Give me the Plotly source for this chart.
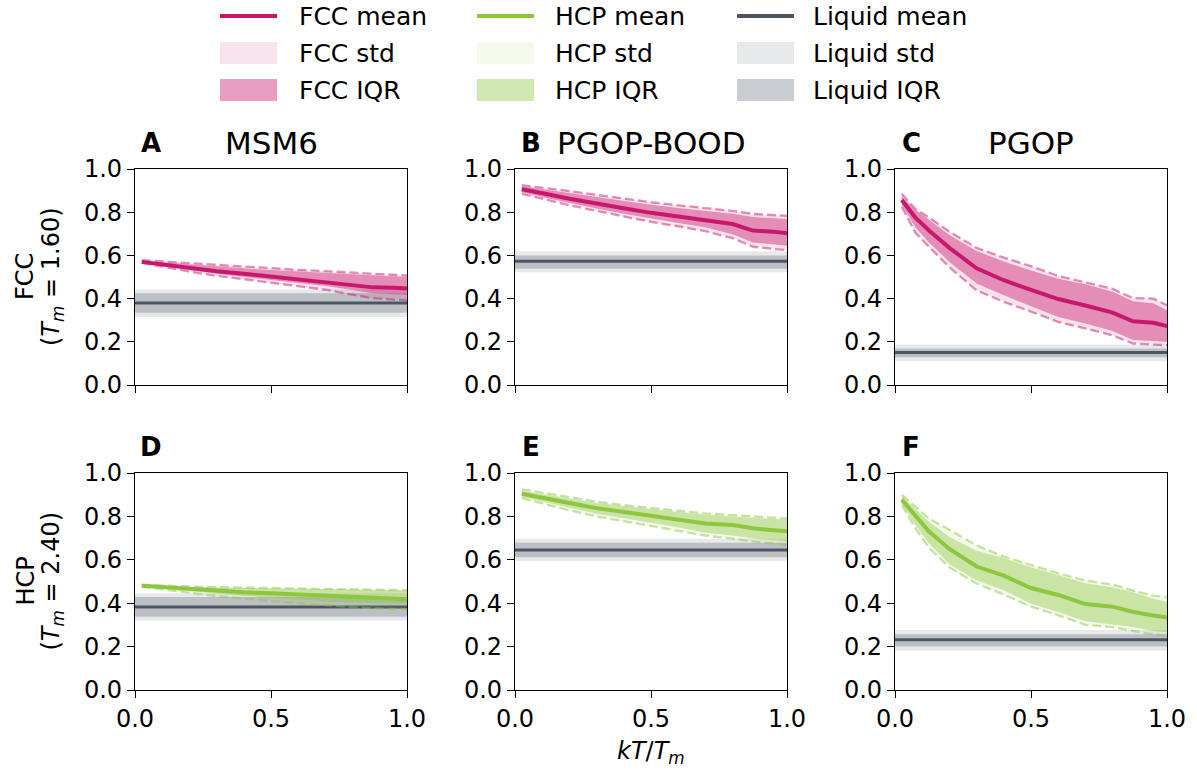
import plotly.graph_objects as go

W, H = 1197, 773

# ---------------- data ----------------
X = [0.025, 0.075, 0.125, 0.2, 0.3, 0.4, 0.5, 0.6, 0.7, 0.8, 0.875, 0.95, 1.0]
LIQ_X = [0.0, 1.0]

# Panel A: FCC / MSM6
A_mean = [0.570, 0.562, 0.552, 0.540, 0.527, 0.515, 0.502, 0.492, 0.478, 0.465, 0.452, 0.450, 0.447]
A_iqr_hi = [0.575, 0.570, 0.565, 0.557, 0.548, 0.540, 0.532, 0.525, 0.518, 0.512, 0.506, 0.503, 0.500]
A_iqr_lo = [0.567, 0.558, 0.547, 0.532, 0.515, 0.500, 0.486, 0.472, 0.458, 0.440, 0.425, 0.420, 0.418]
A_std_hi = [0.578, 0.574, 0.570, 0.563, 0.555, 0.548, 0.540, 0.533, 0.527, 0.520, 0.513, 0.509, 0.507]
A_std_lo = [0.565, 0.555, 0.542, 0.525, 0.505, 0.490, 0.474, 0.458, 0.441, 0.418, 0.402, 0.395, 0.392]
A_liq = [0.380, 0.335, 0.425, 0.315, 0.442]  # mean, iqr lo, iqr hi, std lo, std hi

# Panel B: FCC / PGOP-BOOD
B_mean = [0.906, 0.895, 0.882, 0.862, 0.838, 0.818, 0.797, 0.780, 0.765, 0.745, 0.715, 0.710, 0.702]
B_iqr_hi = [0.920, 0.912, 0.903, 0.889, 0.870, 0.852, 0.835, 0.820, 0.808, 0.793, 0.778, 0.772, 0.768]
B_iqr_lo = [0.892, 0.878, 0.864, 0.842, 0.817, 0.793, 0.770, 0.750, 0.730, 0.698, 0.660, 0.650, 0.645]
B_std_hi = [0.925, 0.918, 0.910, 0.898, 0.880, 0.862, 0.846, 0.832, 0.820, 0.806, 0.792, 0.786, 0.783]
B_std_lo = [0.885, 0.870, 0.855, 0.832, 0.806, 0.780, 0.755, 0.735, 0.712, 0.680, 0.640, 0.630, 0.625]
B_liq = [0.573, 0.538, 0.599, 0.522, 0.619]

# Panel C: FCC / PGOP
C_mean = [0.856, 0.775, 0.715, 0.635, 0.540, 0.485, 0.440, 0.398, 0.368, 0.335, 0.295, 0.288, 0.273]
C_iqr_hi = [0.875, 0.810, 0.765, 0.695, 0.620, 0.572, 0.530, 0.492, 0.466, 0.432, 0.388, 0.378, 0.346]
C_iqr_lo = [0.835, 0.730, 0.660, 0.570, 0.470, 0.415, 0.365, 0.315, 0.285, 0.250, 0.208, 0.204, 0.200]
C_std_hi = [0.885, 0.815, 0.775, 0.710, 0.635, 0.590, 0.550, 0.505, 0.475, 0.445, 0.402, 0.400, 0.369]
C_std_lo = [0.825, 0.705, 0.640, 0.545, 0.438, 0.385, 0.340, 0.292, 0.262, 0.230, 0.192, 0.188, 0.184]
C_liq = [0.150, 0.128, 0.169, 0.110, 0.187]

# Panel D: HCP / MSM6
D_mean = [0.480, 0.476, 0.471, 0.465, 0.457, 0.450, 0.446, 0.440, 0.433, 0.428, 0.423, 0.420, 0.418]
D_iqr_hi = [0.483, 0.480, 0.478, 0.475, 0.472, 0.470, 0.468, 0.466, 0.464, 0.462, 0.461, 0.460, 0.460]
D_iqr_lo = [0.477, 0.472, 0.465, 0.455, 0.443, 0.432, 0.424, 0.416, 0.408, 0.403, 0.400, 0.398, 0.397]
D_std_hi = [0.485, 0.482, 0.480, 0.477, 0.474, 0.472, 0.470, 0.468, 0.466, 0.464, 0.462, 0.461, 0.460]
D_std_lo = [0.476, 0.469, 0.460, 0.448, 0.433, 0.420, 0.410, 0.400, 0.390, 0.382, 0.376, 0.374, 0.372]
D_liq = [0.383, 0.338, 0.428, 0.320, 0.446]

# Panel E: HCP / PGOP-BOOD
E_mean = [0.904, 0.893, 0.880, 0.862, 0.838, 0.820, 0.803, 0.787, 0.767, 0.760, 0.745, 0.736, 0.731]
E_iqr_hi = [0.918, 0.908, 0.897, 0.882, 0.862, 0.848, 0.833, 0.820, 0.808, 0.800, 0.792, 0.788, 0.786]
E_iqr_lo = [0.890, 0.876, 0.862, 0.840, 0.812, 0.790, 0.770, 0.750, 0.725, 0.712, 0.698, 0.690, 0.684]
E_std_hi = [0.925, 0.915, 0.903, 0.888, 0.868, 0.852, 0.838, 0.826, 0.814, 0.806, 0.798, 0.793, 0.790]
E_std_lo = [0.884, 0.868, 0.852, 0.828, 0.800, 0.778, 0.757, 0.737, 0.712, 0.698, 0.684, 0.675, 0.669]
E_liq = [0.645, 0.612, 0.678, 0.595, 0.697]

# Panel F: HCP / PGOP
F_mean = [0.877, 0.805, 0.730, 0.650, 0.569, 0.527, 0.470, 0.438, 0.396, 0.384, 0.360, 0.343, 0.334]
F_iqr_hi = [0.895, 0.835, 0.775, 0.705, 0.642, 0.608, 0.566, 0.530, 0.492, 0.474, 0.450, 0.420, 0.407]
F_iqr_lo = [0.860, 0.760, 0.675, 0.580, 0.505, 0.460, 0.397, 0.360, 0.317, 0.302, 0.290, 0.272, 0.266]
F_std_hi = [0.900, 0.845, 0.790, 0.738, 0.666, 0.615, 0.576, 0.538, 0.505, 0.486, 0.458, 0.435, 0.428]
F_std_lo = [0.852, 0.745, 0.655, 0.565, 0.490, 0.440, 0.384, 0.345, 0.300, 0.290, 0.272, 0.256, 0.250]
F_liq = [0.231, 0.200, 0.257, 0.181, 0.277]

COLUMN_TITLES = ["MSM6", "PGOP-BOOD", "PGOP"]
PANEL_LETTERS = ["A", "B", "C", "D", "E", "F"]
ROW_NAMES = ["FCC", "HCP"]
ROW_TM = ["(<i>T</i><sub><i>m</i></sub> = 1.60)", "(<i>T</i><sub><i>m</i></sub> = 2.40)"]
X_TICKS = [0.0, 0.5, 1.0]
Y_TICKS = [0.0, 0.2, 0.4, 0.6, 0.8, 1.0]
LEGEND_LABELS = [["FCC mean", "FCC std", "FCC IQR"],
                 ["HCP mean", "HCP std", "HCP IQR"],
                 ["Liquid mean", "Liquid std", "Liquid IQR"]]

# ---------------- styles ----------------
FCC = (200, 24, 110)
HCP = (141, 198, 63)
LIQ = (75, 85, 99)
FONT = "DejaVu Sans"


def rgba(c, a):
    return f"rgba({c[0]},{c[1]},{c[2]},{a})"


STD_A = {FCC: 0.12, HCP: 0.10, LIQ: 0.13}
IQR_A = {FCC: 0.42, HCP: 0.40, LIQ: 0.28}

panels = [
    (A_mean, A_iqr_lo, A_iqr_hi, A_std_lo, A_std_hi, A_liq, FCC),
    (B_mean, B_iqr_lo, B_iqr_hi, B_std_lo, B_std_hi, B_liq, FCC),
    (C_mean, C_iqr_lo, C_iqr_hi, C_std_lo, C_std_hi, C_liq, FCC),
    (D_mean, D_iqr_lo, D_iqr_hi, D_std_lo, D_std_hi, D_liq, HCP),
    (E_mean, E_iqr_lo, E_iqr_hi, E_std_lo, E_std_hi, E_liq, HCP),
    (F_mean, F_iqr_lo, F_iqr_hi, F_std_lo, F_std_hi, F_liq, HCP),
]

# pixel layout
COL_X = [(135, 407), (515, 787), (895, 1167)]
ROW_Y = [(169, 385), (473, 690)]


def px(x):
    return x / W


def py(y):
    return 1 - y / H


fig = go.Figure()
layout = dict(template="none", width=W, height=H, autosize=False,
              margin=dict(l=0, r=0, t=0, b=0, pad=0),
              paper_bgcolor="white", plot_bgcolor="white", showlegend=False,
              font=dict(family=FONT, size=24, color="black"))

annotations = []
shapes = []

for i, (mean, ilo, ihi, slo, shi, liq, col) in enumerate(panels):
    r, c = divmod(i, 3)
    n = i + 1
    xa = "x" if n == 1 else f"x{n}"
    ya = "y" if n == 1 else f"y{n}"
    xkey = "xaxis" if n == 1 else f"xaxis{n}"
    ykey = "yaxis" if n == 1 else f"yaxis{n}"
    x0, x1 = COL_X[c]
    y0, y1 = ROW_Y[r]
    common = dict(showline=True, mirror=True, linecolor="black", linewidth=1.3,
                  ticks="outside", ticklen=7, tickwidth=1.3, tickcolor="black",
                  showgrid=False, zeroline=False, range=[0, 1], automargin=False,
                  tickfont=dict(family=FONT, size=24, color="black"))
    layout[xkey] = dict(domain=[px(x0), px(x1)], anchor=ya, tickvals=X_TICKS,
                        ticktext=[f"{v:.1f}" for v in X_TICKS],
                        showticklabels=(r == 1), **common)
    layout[ykey] = dict(domain=[py(y1), py(y0)], anchor=xa, tickvals=Y_TICKS,
                        ticktext=[f"{v:.1f}" for v in Y_TICKS], **common)

    lm, lilo, lihi, lslo, lshi = liq
    # liquid std & IQR bands
    fig.add_trace(go.Scatter(x=LIQ_X + LIQ_X[::-1], y=[lshi, lshi, lslo, lslo], fill="toself",
                             fillcolor=rgba(LIQ, STD_A[LIQ]), line=dict(width=0),
                             mode="lines", hoverinfo="skip", xaxis=xa, yaxis=ya))
    fig.add_trace(go.Scatter(x=LIQ_X + LIQ_X[::-1], y=[lihi, lihi, lilo, lilo], fill="toself",
                             fillcolor=rgba(LIQ, IQR_A[LIQ]), line=dict(width=0),
                             mode="lines", hoverinfo="skip", xaxis=xa, yaxis=ya))
    fig.add_trace(go.Scatter(x=LIQ_X, y=[lm, lm], mode="lines",
                             line=dict(color=rgba(LIQ, 1), width=3), xaxis=xa, yaxis=ya))
    # crystal std band
    fig.add_trace(go.Scatter(x=X + X[::-1], y=shi + slo[::-1], fill="toself",
                             fillcolor=rgba(col, STD_A[col]), line=dict(width=0),
                             mode="lines", hoverinfo="skip", xaxis=xa, yaxis=ya))
    # crystal IQR band
    fig.add_trace(go.Scatter(x=X + X[::-1], y=ihi + ilo[::-1], fill="toself",
                             fillcolor=rgba(col, IQR_A[col]), line=dict(width=0),
                             mode="lines", hoverinfo="skip", xaxis=xa, yaxis=ya))
    # dashed std boundaries
    for arr in (shi, slo):
        fig.add_trace(go.Scatter(x=X, y=arr, mode="lines",
                                 line=dict(color=rgba(col, 0.48), width=2.3, dash="9px,4px"),
                                 xaxis=xa, yaxis=ya))
    # mean
    fig.add_trace(go.Scatter(x=X, y=mean, mode="lines",
                             line=dict(color=rgba(col, 1), width=4), xaxis=xa, yaxis=ya))

    # panel letter
    ty = 143 if r == 0 else 447
    annotations.append(dict(text=f"<b>{PANEL_LETTERS[i]}</b>", x=px(x0 + 16), y=py(ty),
                            xref="paper", yref="paper", showarrow=False,
                            xanchor="center", yanchor="middle",
                            font=dict(family=FONT, size=26, color="black")))
    if r == 0:
        annotations.append(dict(text=COLUMN_TITLES[c], x=px((x0 + x1) / 2), y=py(ty),
                                xref="paper", yref="paper", showarrow=False,
                                xanchor="center", yanchor="middle",
                                font=dict(family=FONT, size=31, color="black")))

# row labels (two rotated lines)
for r in range(2):
    y0, y1 = ROW_Y[r]
    yc = (y0 + y1) / 2
    annotations.append(dict(text=ROW_NAMES[r], x=px(25), y=py(yc), xref="paper", yref="paper",
                            showarrow=False, textangle=-90, xanchor="center", yanchor="middle",
                            font=dict(family=FONT, size=24, color="black")))
    annotations.append(dict(text=ROW_TM[r], x=px(52), y=py(yc), xref="paper", yref="paper",
                            showarrow=False, textangle=-90, xanchor="center", yanchor="middle",
                            font=dict(family=FONT, size=24, color="black")))

# x axis title
annotations.append(dict(text="<i>kT</i>/<i>T</i><sub><i>m</i></sub>", x=px(651), y=py(752),
                        xref="paper", yref="paper", showarrow=False,
                        xanchor="center", yanchor="middle",
                        font=dict(family=FONT, size=24, color="black")))

# legend (manual)
LEG_COLS = [(220, 297, FCC), (477, 553, HCP), (737, 811, LIQ)]
LEG_ROWS = [16, 53, 90]
for ci, (lx0, tx, col) in enumerate(LEG_COLS):
    lx1 = lx0 + 57
    shapes.append(dict(type="line", xref="paper", yref="paper", x0=px(lx0), x1=px(lx1),
                       y0=py(LEG_ROWS[0]), y1=py(LEG_ROWS[0]),
                       line=dict(color=rgba(col, 1), width=4)))
    for ri, a in ((1, STD_A[col]), (2, IQR_A[col] if col != LIQ else 0.3)):
        yc = LEG_ROWS[ri]
        shapes.append(dict(type="rect", xref="paper", yref="paper", x0=px(lx0), x1=px(lx1),
                           y0=py(yc + 11), y1=py(yc - 11), line=dict(width=0),
                           fillcolor=rgba(col, a)))
    for ri in range(3):
        annotations.append(dict(text=LEGEND_LABELS[ci][ri], x=px(tx), y=py(LEG_ROWS[ri]),
                                xref="paper", yref="paper", showarrow=False,
                                xanchor="left", yanchor="middle",
                                font=dict(family=FONT, size=25, color="black")))

layout["annotations"] = annotations
layout["shapes"] = shapes
fig.update_layout(**layout)
fig.write_html("out.html")
